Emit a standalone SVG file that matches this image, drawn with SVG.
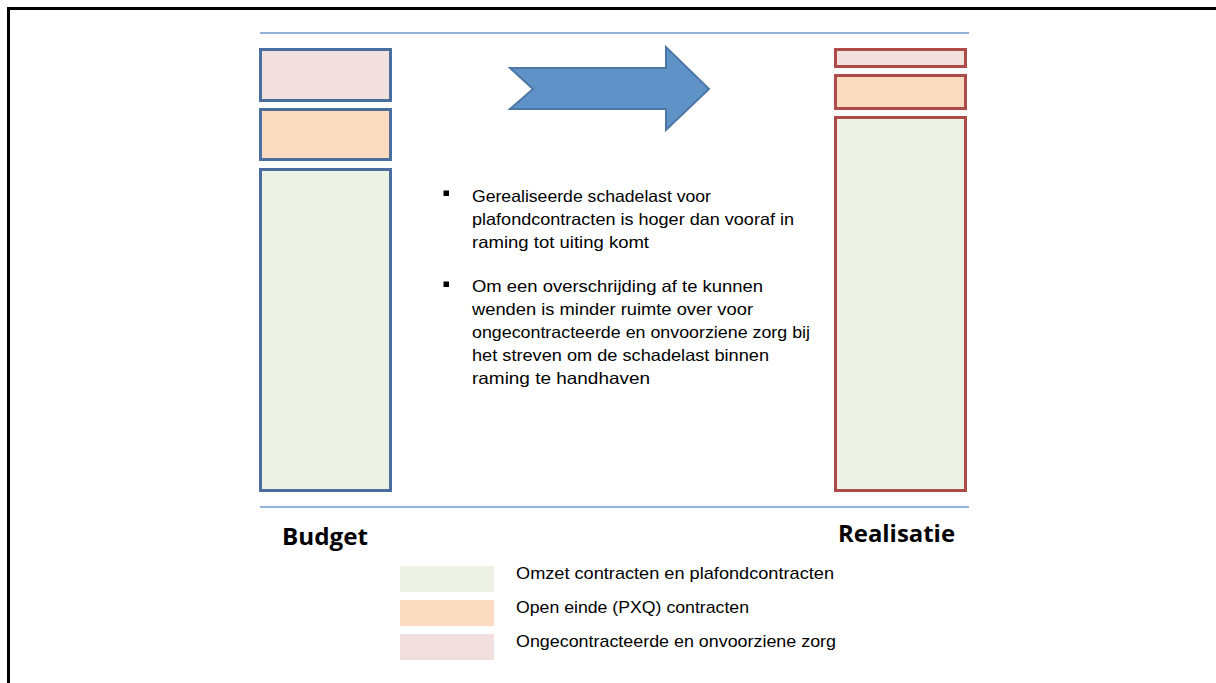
<svg xmlns="http://www.w3.org/2000/svg" width="1216" height="683" viewBox="0 0 1216 683">
<style>
.t{font-family:"Liberation Sans",Arial,sans-serif;font-size:16.5px;fill:#000}
.l{font-family:"Liberation Sans",Arial,sans-serif;font-size:17px;fill:#000}
.h{font-family:"Open Sans","Liberation Sans",sans-serif;font-weight:bold;font-size:24px;fill:#000}
.b{stroke:#4a6f9e;stroke-width:3}
.r{stroke:#ac4b48;stroke-width:3}
.pk{fill:#f2e0df}
.or{fill:#fcdcc0}
.gr{fill:#eef2e4}
.sep{stroke:#6e9bd1;stroke-width:1.5}
</style>
<rect x="0" y="0" width="1216" height="683" fill="#fff"/>
<path d="M8.5,683 V8.5 H1216" fill="none" stroke="#000" stroke-width="3"/>
<line class="sep" x1="260" y1="33" x2="969" y2="33"/>
<line class="sep" x1="260" y1="507" x2="969" y2="507"/>
<g id="budget">
<rect class="b pk" x="260.5" y="49.5" width="130" height="51"/>
<rect class="b or" x="260.5" y="109.5" width="130" height="50"/>
<rect class="b gr" x="260.5" y="169.5" width="130" height="321"/>
</g>
<g id="realisatie">
<rect class="r pk" x="835.5" y="49.5" width="130" height="17"/>
<rect class="r or" x="835.5" y="75.5" width="130" height="33"/>
<rect class="r gr" x="835.5" y="117.5" width="130" height="373"/>
</g>
<g id="arrow">
<polygon points="510,68 666,68 666,47 709,89 666,130 666,109 510,109 533,89" fill="#5f93c8" stroke="#4c76a6" stroke-width="2"/>
</g>
<g id="bullets">
<rect x="443.5" y="190.5" width="5.5" height="5.5"/>
<rect x="443.5" y="281.5" width="5.5" height="5.5"/>
<text class="t" x="472" y="202" textLength="239" lengthAdjust="spacingAndGlyphs">Gerealiseerde schadelast voor</text>
<text class="t" x="472" y="225" textLength="322" lengthAdjust="spacingAndGlyphs">plafondcontracten is hoger dan vooraf in</text>
<text class="t" x="472" y="248" textLength="177" lengthAdjust="spacingAndGlyphs">raming tot uiting komt</text>
<text class="t" x="472" y="292" textLength="291" lengthAdjust="spacingAndGlyphs">Om een overschrijding af te kunnen</text>
<text class="t" x="472" y="315" textLength="281" lengthAdjust="spacingAndGlyphs">wenden is minder ruimte over voor</text>
<text class="t" x="472" y="338" textLength="338" lengthAdjust="spacingAndGlyphs">ongecontracteerde en onvoorziene zorg bij</text>
<text class="t" x="472" y="361" textLength="297" lengthAdjust="spacingAndGlyphs">het streven om de schadelast binnen</text>
<text class="t" x="472" y="384" textLength="178" lengthAdjust="spacingAndGlyphs">raming te handhaven</text>
</g>
<text class="h" x="282" y="545" textLength="86" lengthAdjust="spacingAndGlyphs">Budget</text>
<text class="h" x="838" y="542" textLength="117" lengthAdjust="spacingAndGlyphs">Realisatie</text>
<g id="legend">
<rect class="gr" x="400" y="566" width="94" height="26"/>
<rect class="or" x="400" y="600" width="94" height="26"/>
<rect class="pk" x="400" y="634" width="94" height="26"/>
<text class="l" x="516" y="579" textLength="318" lengthAdjust="spacingAndGlyphs">Omzet contracten en plafondcontracten</text>
<text class="l" x="516" y="613" textLength="233" lengthAdjust="spacingAndGlyphs">Open einde (PXQ) contracten</text>
<text class="l" x="516" y="647" textLength="320" lengthAdjust="spacingAndGlyphs">Ongecontracteerde en onvoorziene zorg</text>
</g>
</svg>
